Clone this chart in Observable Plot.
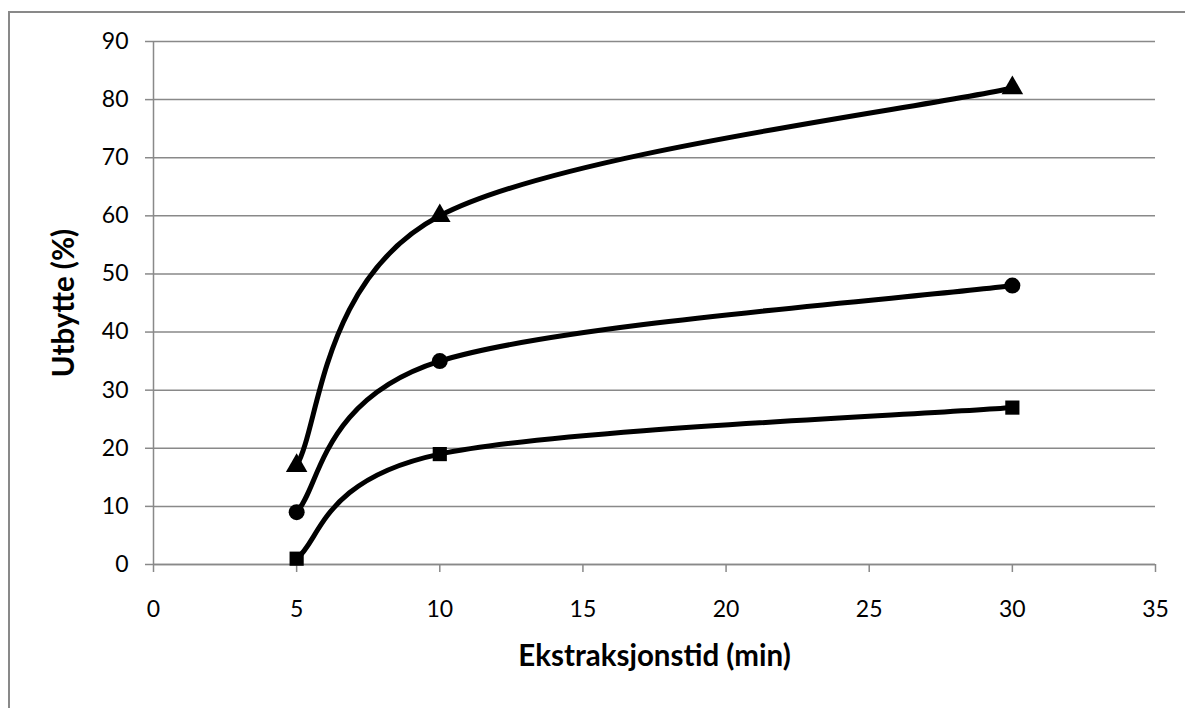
<!DOCTYPE html>
<html>
<head>
<meta charset="utf-8">
<script src="https://cdn.jsdelivr.net/npm/d3@7"></script>
<script src="https://cdn.jsdelivr.net/npm/@observablehq/plot@0.6"></script>
<style>
  html, body { margin: 0; padding: 0; background: #fff; overflow: hidden; }
  #frame { position: absolute; left: 8px; top: 11px; width: 1200px; height: 720px; border: 2px solid #898989; box-sizing: border-box; }
  #chart { position: absolute; left: 0; top: 0; }
</style>
</head>
<body>
<div id="frame"></div>
<div id="chart"></div>
<script>
// Data
const times = [5, 10, 30];
const triangleSeries = [17, 60, 82];
const circleSeries = [9, 35, 48];
const squareSeries = [1, 19, 27];
const xTicks = [0, 5, 10, 15, 20, 25, 30, 35];
const yTicks = [0, 10, 20, 30, 40, 50, 60, 70, 80, 90];
const xTitle = "Ekstraksjonstid (min)";
const yTitle = "Utbytte (%)";

const series = [
  {name: "triangle", values: triangleSeries},
  {name: "circle", values: circleSeries},
  {name: "square", values: squareSeries}
];
const rows = series.flatMap(s => times.map((t, i) => ({series: s.name, x: t, y: s.values[i]})));

// Spreadsheet-style smoothed line: cubic Bézier segments whose control points
// lie 1/6 of the neighbour chord away (end points duplicated).
function smoothCurve(context) {
  let pts = [];
  return {
    areaStart() {}, areaEnd() {},
    lineStart() { pts = []; },
    point(x, y) { pts.push([+x, +y]); },
    lineEnd() {
      const n = pts.length;
      if (!n) return;
      context.moveTo(pts[0][0], pts[0][1]);
      for (let i = 0; i < n - 1; i++) {
        const p0 = pts[Math.max(i - 1, 0)], p1 = pts[i], p2 = pts[i + 1], p3 = pts[Math.min(i + 2, n - 1)];
        context.bezierCurveTo(
          p1[0] + (p2[0] - p0[0]) / 6, p1[1] + (p2[1] - p0[1]) / 6,
          p2[0] - (p3[0] - p1[0]) / 6, p2[1] - (p3[1] - p1[1]) / 6,
          p2[0], p2[1]);
      }
    }
  };
}

const grid = "#898989";
const font = "Lato, 'Open Sans', sans-serif";

const chart = Plot.plot({
  width: 1185,
  height: 708,
  marginLeft: 153,
  marginRight: 30,
  marginTop: 41,
  marginBottom: 144,
  style: {fontFamily: font, fontSize: "22px", color: "#000", background: "transparent"},
  x: {domain: [0, 35]},
  y: {domain: [0, 90]},
  symbol: {domain: ["triangle", "circle", "square"], range: ["triangle", "circle", "square"]},
  marks: [
    Plot.gridY(yTicks, {stroke: grid, strokeOpacity: 1, strokeWidth: 1.5}),
    Plot.ruleX([0], {stroke: grid, strokeWidth: 1.5}),
    Plot.ruleY([0], {stroke: grid, strokeWidth: 1.5}),
    Plot.axisY(yTicks, {tickSize: 8, tickPadding: 17, stroke: grid, strokeWidth: 1.5, fill: "#000", label: null, fontSize: 23}),
    Plot.axisX(xTicks, {tickSize: 8, tickPadding: 28, stroke: grid, strokeWidth: 1.5, fill: "#000", label: null, fontSize: 23}),
    Plot.line(rows, {x: "x", y: "y", z: "series", curve: smoothCurve, stroke: "#000", strokeWidth: 5}),
    Plot.dot(rows, {x: "x", y: "y", symbol: "series", r: 8, fill: "#000", stroke: "none"}),
    Plot.text([xTitle], {frameAnchor: "bottom", dy: 101, text: d => d, fontWeight: "bold", fontSize: 29.5, fill: "#000"}),
    Plot.text([yTitle], {frameAnchor: "left", textAnchor: "middle", dx: -89, rotate: -90, text: d => d, fontWeight: "bold", fontSize: 29.5, fill: "#000"})
  ]
});
document.getElementById("chart").appendChild(chart);
</script>
</body>
</html>
